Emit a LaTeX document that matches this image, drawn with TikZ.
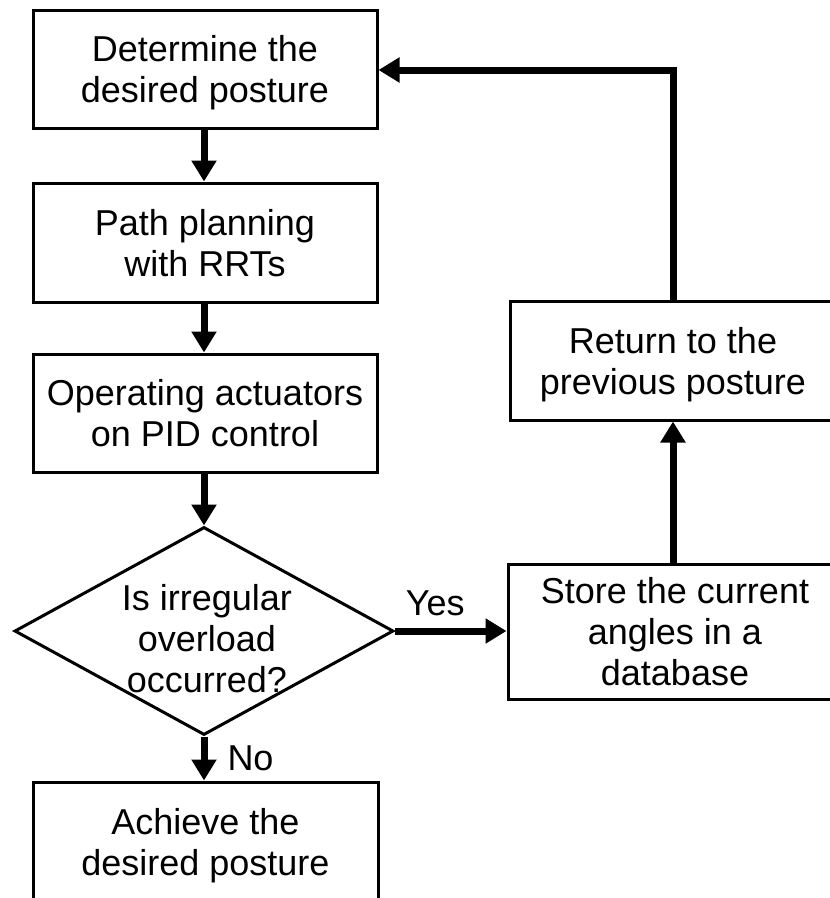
\documentclass[tikz,border=0pt]{standalone}
\usepackage{fontspec}
\setmainfont{Liberation Sans}
\usetikzlibrary{arrows.meta,shapes.geometric}
\begin{document}
\begin{tikzpicture}[x=1pt,y=-1pt,
  txt/.style={font=\fontsize{36}{41}\selectfont, align=center, inner sep=0pt},
  stepbox/.style={txt, draw, line width=3pt, rectangle, text depth=0pt},
  decision/.style={draw, line width=3pt, diamond, inner sep=0pt},
  flow/.style={line width=7pt, -{Triangle[length=21pt,width=24pt]}},
  flowline/.style={line width=7pt}]
\useasboundingbox (0,0) rectangle (830,898);
\clip (0,0) rectangle (830,898);

% main column
\node[stepbox, minimum width=344pt, minimum height=118pt] (det) at (205,69) {Determine the\\desired posture};
\node[stepbox, minimum width=344pt, minimum height=119pt] (path) at (205,242.5) {Path planning\\with RRTs};
\node[stepbox, minimum width=344pt, minimum height=118pt] (oper) at (205,413) {Operating actuators\\on PID control};
\node[decision, minimum width=379pt, minimum height=208pt] (dec) at (204,631) {};
\node[txt] (dectext) at (207,639) {Is irregular\\overload\\occurred?};
\node[stepbox, minimum width=345pt, minimum height=120pt] (ach) at (205.5,842) {Achieve the\\desired posture};

% recovery branch
\node[stepbox, minimum width=326pt, minimum height=119pt] (ret) at (673,360.5) {Return to the\\previous posture};
\node[stepbox, minimum width=334pt, minimum height=135pt] (store) at (675,631.5) {Store the current\\angles in a\\database};

% connectors
\draw[flow] (det.south -| 204,0) -- (path.north -| 204,0);
\draw[flow] (path.south -| 204,0) -- (oper.north -| 204,0);
\draw[flow] (oper.south -| 204,0) -- (dec.north);
\draw[flow] (dec.south) -- (ach.north -| dec.south) node[txt, pos=0.5, right=20pt] {No};
\draw[flow] (dec.east) -- (store.west |- dec.east) node[txt, pos=0.36, above=12pt] {Yes};
\draw[flow] (store.north -| 673,0) -- (ret.south -| 673,0);
\coordinate (corner) at (673,70);
\draw[flowline] (ret.north -| 673,0) -- (corner);
\draw[flow] ([xshift=3.5pt]corner) -- (det.east |- corner);
\end{tikzpicture}
\end{document}
